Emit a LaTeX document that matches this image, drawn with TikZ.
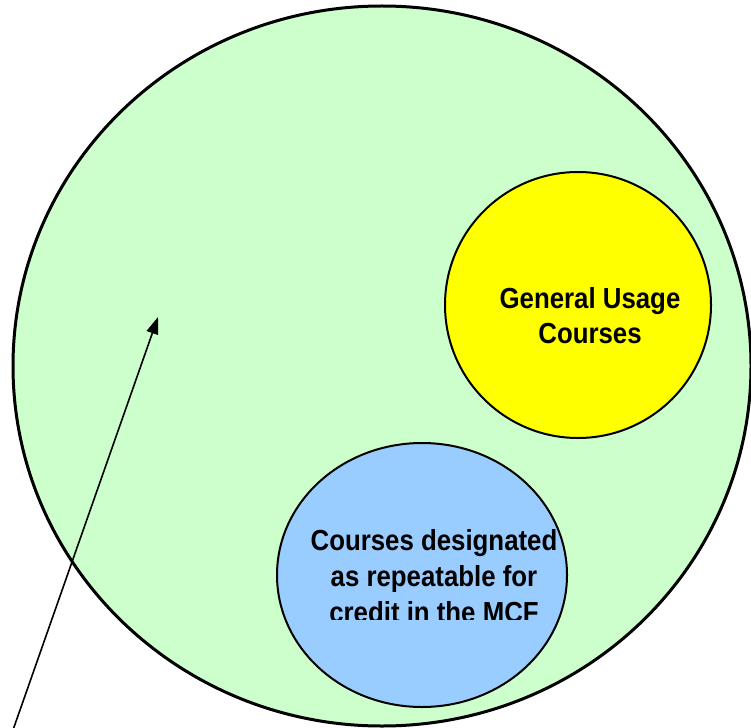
\documentclass[tikz,border=0pt]{standalone}
\usepackage{fontspec}
\newfontfamily\vennfont{Liberation Sans}[FakeStretch=0.89]
\usetikzlibrary{arrows.meta}
\definecolor{mcfgreen}{HTML}{CCFFCC}
\definecolor{gucyellow}{HTML}{FFFF00}
\definecolor{repblue}{HTML}{99CCFF}
\tikzset {>={Triangle[length=17pt,width=12pt]}}
\tikzset {venntext/.style={font=\vennfont\bfseries\fontsize{29pt}{35pt}\selectfont,align=center,inner sep=0pt}}

\begin{document}
\begin{tikzpicture}[x=1pt,y=-1pt]
\useasboundingbox (0,0) rectangle (751,727);
\clip (0,0) rectangle (751,727);
\coordinate (MCF) at (382,366);
\coordinate (GU) at (578,305);
\coordinate (REP) at (422,575);
\filldraw[fill=mcfgreen,line width=3pt] (MCF) ellipse (369 and 360);
\filldraw[fill=gucyellow,line width=2pt] (GU) circle (133);
\filldraw[fill=repblue,line width=2pt] (REP) ellipse (145 and 132);
\node[venntext] (GUtext) at (590,316) {General Usage\\Courses};
\begin{scope}
\clip (290,500) rectangle (557,619); % text box cuts the last line
\node[venntext,font=\vennfont\bfseries\fontsize{29pt}{36pt}\selectfont] (REPtext) at (434,576) {Courses designated\\as repeatable for\\credit in the MCF};
\end{scope}
\coordinate (tail) at (13,730);
\coordinate (tip) at (158,317);
\draw[->,line width=1.6pt] (tail) -- (tip);
\end{tikzpicture}
\end{document}
